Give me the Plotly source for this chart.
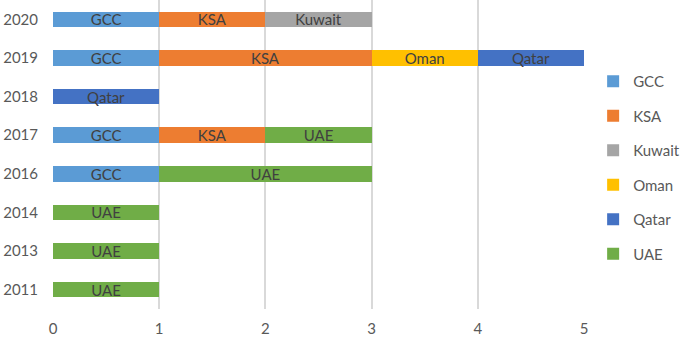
import plotly.graph_objects as go

categories = ["2011", "2013", "2014", "2016", "2017", "2018", "2019", "2020"]
series_names = ["GCC", "KSA", "Kuwait", "Oman", "Qatar", "UAE"]
gcc = [None, None, None, 1, 1, None, 1, 1]
ksa = [None, None, None, None, 1, None, 2, 1]
kuwait = [None, None, None, None, None, None, None, 1]
oman = [None, None, None, None, None, None, 1, None]
qatar = [None, None, None, None, None, 1, 1, None]
uae = [1, 1, 1, 2, 1, None, None, None]
x_ticks = [0, 1, 2, 3, 4, 5]

colors = ["#5B9BD5", "#ED7D31", "#A5A5A5", "#FFC000", "#4472C4", "#70AD47"]
values = [gcc, ksa, kuwait, oman, qatar, uae]

FONT = "Lato, 'Open Sans', sans-serif"
fig = go.Figure()
for name, vals, col in zip(series_names, values, colors):
    fig.add_trace(go.Bar(
        y=categories, x=vals, name=name, orientation="h",
        marker=dict(color=col, line=dict(width=0)),
        text=[name if v else None for v in vals],
        textposition="inside", insidetextanchor="middle",
        textangle=0, constraintext="none",
        textfont=dict(color="#404040", size=15, family=FONT),
        legendgroup=name,
        hoverinfo="skip",
    ))

fig.update_layout(
    barmode="stack",
    bargap=0.6,
    width=685, height=339,
    margin=dict(l=53, r=101, t=0, b=30, autoexpand=False),
    paper_bgcolor="white", plot_bgcolor="white",
    font=dict(family=FONT, size=15, color="#595959"),
    legend=dict(x=1.0172, xanchor="left", y=0.458, yanchor="middle",
                traceorder="grouped", tracegroupgap=12,
                font=dict(size=15, color="#595959", family=FONT)),
    xaxis=dict(range=[0, 5], tickvals=x_ticks, showgrid=True,
               gridcolor="#D9D9D9", gridwidth=1.5, zeroline=False,
               showline=False, ticks="outside", ticklen=6,
               tickcolor="rgba(0,0,0,0)", automargin=False),
    yaxis=dict(type="category", categoryorder="array", categoryarray=categories,
               showgrid=False, zeroline=False, showline=False,
               ticks="outside", ticklen=11, tickcolor="rgba(0,0,0,0)",
               automargin=False),
)
fig.write_html("out.html",
               config={"displayModeBar": False},
               post_script="document.body.style.margin='0';document.body.style.overflow='hidden';")
